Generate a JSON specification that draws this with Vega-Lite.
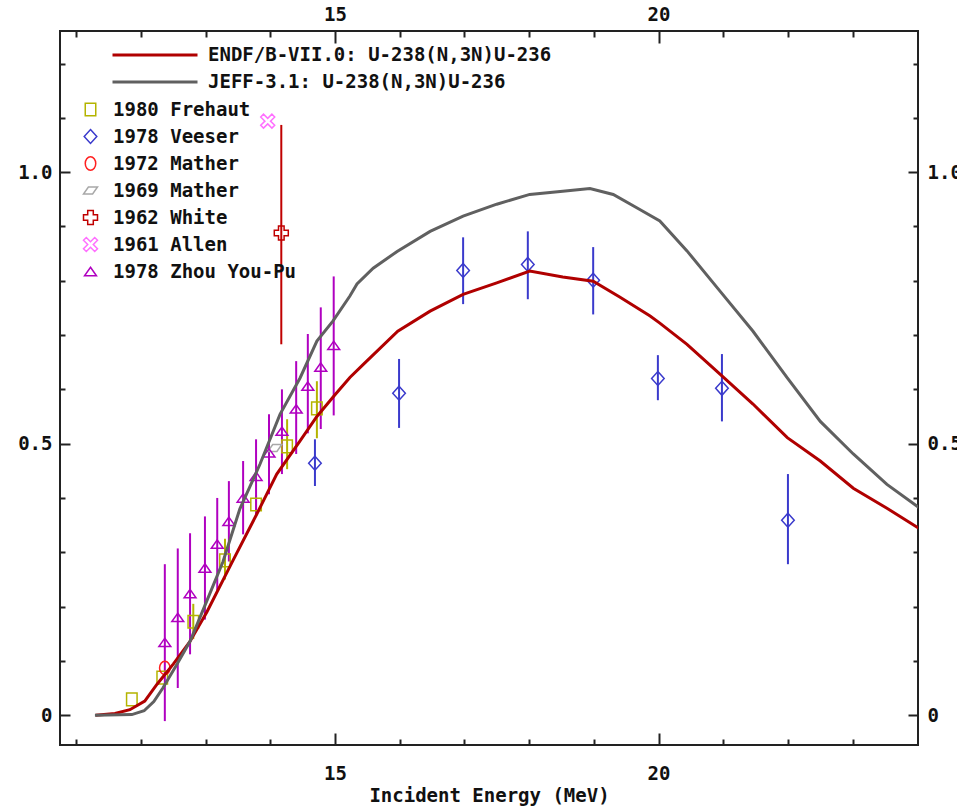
{
  "$schema": "https://vega.github.io/schema/vega-lite/v6.json",
  "width": 858,
  "height": 714,
  "autosize": {"type": "none"},
  "padding": {"left": 60, "top": 31, "right": 39, "bottom": 61},
  "background": "white",
  "config": {
    "view": {"stroke": "#222222", "strokeWidth": 2},
    "font": "DejaVu Sans Mono",
    "axis": {
      "domain": false,
      "grid": false,
      "tickColor": "#222222",
      "tickWidth": 2,
      "labelFont": "DejaVu Sans Mono",
      "labelFontSize": 19,
      "labelFontWeight": "bold",
      "labelColor": "#111111",
      "labelOverlap": false,
      "labelFlush": false,
      "titleFont": "DejaVu Sans Mono",
      "titleFontSize": 19,
      "titleFontWeight": "bold",
      "titleColor": "#111111"
    },
    "legend": {
      "padding": 0,
      "labelFont": "DejaVu Sans Mono",
      "labelFontSize": 19,
      "labelFontWeight": "bold",
      "labelColor": "#111111",
      "labelLimit": 600,
      "rowPadding": 0,
      "clipHeight": 27
    }
  },
  "datasets": {
    "curves": [
      {"series": "ENDF/B-VII.0: U-238(N,3N)U-236", "E": 11.30, "sigma": 0.000},
      {"series": "ENDF/B-VII.0: U-238(N,3N)U-236", "E": 11.60, "sigma": 0.003},
      {"series": "ENDF/B-VII.0: U-238(N,3N)U-236", "E": 11.83, "sigma": 0.010},
      {"series": "ENDF/B-VII.0: U-238(N,3N)U-236", "E": 12.06, "sigma": 0.026},
      {"series": "ENDF/B-VII.0: U-238(N,3N)U-236", "E": 12.25, "sigma": 0.057},
      {"series": "ENDF/B-VII.0: U-238(N,3N)U-236", "E": 12.50, "sigma": 0.094},
      {"series": "ENDF/B-VII.0: U-238(N,3N)U-236", "E": 12.76, "sigma": 0.136},
      {"series": "ENDF/B-VII.0: U-238(N,3N)U-236", "E": 13.02, "sigma": 0.190},
      {"series": "ENDF/B-VII.0: U-238(N,3N)U-236", "E": 13.42, "sigma": 0.284},
      {"series": "ENDF/B-VII.0: U-238(N,3N)U-236", "E": 13.79, "sigma": 0.370},
      {"series": "ENDF/B-VII.0: U-238(N,3N)U-236", "E": 14.10, "sigma": 0.444},
      {"series": "ENDF/B-VII.0: U-238(N,3N)U-236", "E": 14.46, "sigma": 0.505},
      {"series": "ENDF/B-VII.0: U-238(N,3N)U-236", "E": 14.72, "sigma": 0.550},
      {"series": "ENDF/B-VII.0: U-238(N,3N)U-236", "E": 15.00, "sigma": 0.590},
      {"series": "ENDF/B-VII.0: U-238(N,3N)U-236", "E": 15.23, "sigma": 0.622},
      {"series": "ENDF/B-VII.0: U-238(N,3N)U-236", "E": 15.43, "sigma": 0.645},
      {"series": "ENDF/B-VII.0: U-238(N,3N)U-236", "E": 15.97, "sigma": 0.707},
      {"series": "ENDF/B-VII.0: U-238(N,3N)U-236", "E": 16.47, "sigma": 0.744},
      {"series": "ENDF/B-VII.0: U-238(N,3N)U-236", "E": 16.98, "sigma": 0.775},
      {"series": "ENDF/B-VII.0: U-238(N,3N)U-236", "E": 17.50, "sigma": 0.796},
      {"series": "ENDF/B-VII.0: U-238(N,3N)U-236", "E": 18.01, "sigma": 0.818},
      {"series": "ENDF/B-VII.0: U-238(N,3N)U-236", "E": 18.52, "sigma": 0.807},
      {"series": "ENDF/B-VII.0: U-238(N,3N)U-236", "E": 18.99, "sigma": 0.799},
      {"series": "ENDF/B-VII.0: U-238(N,3N)U-236", "E": 19.40, "sigma": 0.770},
      {"series": "ENDF/B-VII.0: U-238(N,3N)U-236", "E": 19.87, "sigma": 0.735},
      {"series": "ENDF/B-VII.0: U-238(N,3N)U-236", "E": 20.02, "sigma": 0.722},
      {"series": "ENDF/B-VII.0: U-238(N,3N)U-236", "E": 20.44, "sigma": 0.683},
      {"series": "ENDF/B-VII.0: U-238(N,3N)U-236", "E": 20.95, "sigma": 0.628},
      {"series": "ENDF/B-VII.0: U-238(N,3N)U-236", "E": 21.46, "sigma": 0.573},
      {"series": "ENDF/B-VII.0: U-238(N,3N)U-236", "E": 21.99, "sigma": 0.511},
      {"series": "ENDF/B-VII.0: U-238(N,3N)U-236", "E": 22.50, "sigma": 0.468},
      {"series": "ENDF/B-VII.0: U-238(N,3N)U-236", "E": 23.01, "sigma": 0.418},
      {"series": "ENDF/B-VII.0: U-238(N,3N)U-236", "E": 23.53, "sigma": 0.381},
      {"series": "ENDF/B-VII.0: U-238(N,3N)U-236", "E": 24.04, "sigma": 0.343},
      {"series": "JEFF-3.1: U-238(N,3N)U-236", "E": 11.29, "sigma": 0.000},
      {"series": "JEFF-3.1: U-238(N,3N)U-236", "E": 11.86, "sigma": 0.001},
      {"series": "JEFF-3.1: U-238(N,3N)U-236", "E": 12.05, "sigma": 0.008},
      {"series": "JEFF-3.1: U-238(N,3N)U-236", "E": 12.20, "sigma": 0.025},
      {"series": "JEFF-3.1: U-238(N,3N)U-236", "E": 12.34, "sigma": 0.050},
      {"series": "JEFF-3.1: U-238(N,3N)U-236", "E": 12.56, "sigma": 0.094},
      {"series": "JEFF-3.1: U-238(N,3N)U-236", "E": 12.76, "sigma": 0.136},
      {"series": "JEFF-3.1: U-238(N,3N)U-236", "E": 13.00, "sigma": 0.205},
      {"series": "JEFF-3.1: U-238(N,3N)U-236", "E": 13.27, "sigma": 0.283},
      {"series": "JEFF-3.1: U-238(N,3N)U-236", "E": 13.53, "sigma": 0.380},
      {"series": "JEFF-3.1: U-238(N,3N)U-236", "E": 13.84, "sigma": 0.462},
      {"series": "JEFF-3.1: U-238(N,3N)U-236", "E": 14.15, "sigma": 0.554},
      {"series": "JEFF-3.1: U-238(N,3N)U-236", "E": 14.46, "sigma": 0.621},
      {"series": "JEFF-3.1: U-238(N,3N)U-236", "E": 14.72, "sigma": 0.689},
      {"series": "JEFF-3.1: U-238(N,3N)U-236", "E": 14.97, "sigma": 0.726},
      {"series": "JEFF-3.1: U-238(N,3N)U-236", "E": 15.23, "sigma": 0.772},
      {"series": "JEFF-3.1: U-238(N,3N)U-236", "E": 15.34, "sigma": 0.794},
      {"series": "JEFF-3.1: U-238(N,3N)U-236", "E": 15.59, "sigma": 0.823},
      {"series": "JEFF-3.1: U-238(N,3N)U-236", "E": 15.96, "sigma": 0.854},
      {"series": "JEFF-3.1: U-238(N,3N)U-236", "E": 16.47, "sigma": 0.891},
      {"series": "JEFF-3.1: U-238(N,3N)U-236", "E": 16.98, "sigma": 0.919},
      {"series": "JEFF-3.1: U-238(N,3N)U-236", "E": 17.50, "sigma": 0.941},
      {"series": "JEFF-3.1: U-238(N,3N)U-236", "E": 18.01, "sigma": 0.959},
      {"series": "JEFF-3.1: U-238(N,3N)U-236", "E": 18.52, "sigma": 0.965},
      {"series": "JEFF-3.1: U-238(N,3N)U-236", "E": 18.94, "sigma": 0.970},
      {"series": "JEFF-3.1: U-238(N,3N)U-236", "E": 19.30, "sigma": 0.959},
      {"series": "JEFF-3.1: U-238(N,3N)U-236", "E": 19.67, "sigma": 0.934},
      {"series": "JEFF-3.1: U-238(N,3N)U-236", "E": 20.02, "sigma": 0.910},
      {"series": "JEFF-3.1: U-238(N,3N)U-236", "E": 20.44, "sigma": 0.855},
      {"series": "JEFF-3.1: U-238(N,3N)U-236", "E": 20.95, "sigma": 0.781},
      {"series": "JEFF-3.1: U-238(N,3N)U-236", "E": 21.46, "sigma": 0.707},
      {"series": "JEFF-3.1: U-238(N,3N)U-236", "E": 21.99, "sigma": 0.621},
      {"series": "JEFF-3.1: U-238(N,3N)U-236", "E": 22.50, "sigma": 0.541},
      {"series": "JEFF-3.1: U-238(N,3N)U-236", "E": 23.01, "sigma": 0.481},
      {"series": "JEFF-3.1: U-238(N,3N)U-236", "E": 23.53, "sigma": 0.425},
      {"series": "JEFF-3.1: U-238(N,3N)U-236", "E": 24.04, "sigma": 0.381}
    ],
    "pts": [
      {"series": "1980 Frehaut", "E": 11.86, "sigma": 0.029, "lo": null, "hi": null},
      {"series": "1980 Frehaut", "E": 12.33, "sigma": 0.069, "lo": null, "hi": null},
      {"series": "1980 Frehaut", "E": 12.81, "sigma": 0.172, "lo": 0.140, "hi": 0.205},
      {"series": "1980 Frehaut", "E": 13.30, "sigma": 0.285, "lo": 0.250, "hi": 0.325},
      {"series": "1980 Frehaut", "E": 13.78, "sigma": 0.388, "lo": 0.370, "hi": 0.405},
      {"series": "1980 Frehaut", "E": 14.26, "sigma": 0.495, "lo": 0.453, "hi": 0.545},
      {"series": "1980 Frehaut", "E": 14.72, "sigma": 0.565, "lo": 0.510, "hi": 0.615},
      {"series": "1978 Veeser", "E": 14.69, "sigma": 0.464, "lo": 0.422, "hi": 0.508},
      {"series": "1978 Veeser", "E": 15.99, "sigma": 0.593, "lo": 0.529, "hi": 0.656},
      {"series": "1978 Veeser", "E": 16.98, "sigma": 0.819, "lo": 0.757, "hi": 0.880},
      {"series": "1978 Veeser", "E": 17.98, "sigma": 0.830, "lo": 0.766, "hi": 0.891},
      {"series": "1978 Veeser", "E": 18.99, "sigma": 0.801, "lo": 0.738, "hi": 0.862},
      {"series": "1978 Veeser", "E": 19.99, "sigma": 0.620, "lo": 0.580, "hi": 0.663},
      {"series": "1978 Veeser", "E": 20.98, "sigma": 0.602, "lo": 0.541, "hi": 0.665},
      {"series": "1978 Veeser", "E": 22.00, "sigma": 0.359, "lo": 0.278, "hi": 0.444},
      {"series": "1972 Mather", "E": 12.37, "sigma": 0.087, "lo": null, "hi": null},
      {"series": "1969 Mather", "E": 14.07, "sigma": 0.492, "lo": null, "hi": null},
      {"series": "1962 White", "E": 14.17, "sigma": 0.888, "lo": 0.683, "hi": 1.087},
      {"series": "1961 Allen", "E": 13.96, "sigma": 1.094, "lo": null, "hi": null},
      {"series": "1978 Zhou You-Pu", "E": 12.37, "sigma": 0.134, "lo": -0.011, "hi": 0.278},
      {"series": "1978 Zhou You-Pu", "E": 12.57, "sigma": 0.180, "lo": 0.050, "hi": 0.307},
      {"series": "1978 Zhou You-Pu", "E": 12.76, "sigma": 0.224, "lo": 0.112, "hi": 0.335},
      {"series": "1978 Zhou You-Pu", "E": 12.99, "sigma": 0.271, "lo": 0.176, "hi": 0.366},
      {"series": "1978 Zhou You-Pu", "E": 13.18, "sigma": 0.315, "lo": 0.230, "hi": 0.400},
      {"series": "1978 Zhou You-Pu", "E": 13.36, "sigma": 0.357, "lo": 0.283, "hi": 0.431},
      {"series": "1978 Zhou You-Pu", "E": 13.58, "sigma": 0.400, "lo": 0.333, "hi": 0.468},
      {"series": "1978 Zhou You-Pu", "E": 13.78, "sigma": 0.440, "lo": 0.370, "hi": 0.508},
      {"series": "1978 Zhou You-Pu", "E": 13.98, "sigma": 0.483, "lo": 0.407, "hi": 0.554},
      {"series": "1978 Zhou You-Pu", "E": 14.18, "sigma": 0.523, "lo": 0.444, "hi": 0.600},
      {"series": "1978 Zhou You-Pu", "E": 14.40, "sigma": 0.564, "lo": 0.481, "hi": 0.652},
      {"series": "1978 Zhou You-Pu", "E": 14.58, "sigma": 0.606, "lo": 0.519, "hi": 0.702},
      {"series": "1978 Zhou You-Pu", "E": 14.78, "sigma": 0.641, "lo": 0.527, "hi": 0.751},
      {"series": "1978 Zhou You-Pu", "E": 14.98, "sigma": 0.681, "lo": 0.552, "hi": 0.808}
    ]
  },
  "resolve": {"axis": {"x": "independent", "y": "independent"}},
  "layer": [
    {
      "data": {"name": "pts"},
      "mark": {"type": "rule", "strokeWidth": 2, "clip": true},
      "encoding": {
        "x": {
          "field": "E", "type": "quantitative",
          "scale": {"domain": [10.75, 24.01], "nice": false, "zero": false},
          "axis": {
            "orient": "bottom",
            "values": [11, 12, 13, 14, 15, 16, 17, 18, 19, 20, 21, 22, 23],
            "labelExpr": "datum.value == 15 || datum.value == 20 ? datum.label : ''",
            "tickSize": {"condition": {"test": "datum.value % 5 == 0", "value": -12}, "value": -6},
            "labelPadding": 31,
            "title": "Incident Energy (MeV)",
            "titlePadding": -3
          }
        },
        "y": {
          "field": "lo", "type": "quantitative",
          "scale": {"domain": [-0.055, 1.26], "nice": false, "zero": false},
          "axis": {
            "orient": "left",
            "values": [0, 0.1, 0.2, 0.3, 0.4, 0.5, 0.6, 0.7, 0.8, 0.9, 1.0, 1.1, 1.2],
            "labelExpr": "abs(datum.value) < 0.001 ? '0' : (abs(datum.value - 0.5) < 0.001 ? '0.5' : (abs(datum.value - 1) < 0.001 ? '1.0' : ''))",
            "tickSize": {"condition": {"test": "abs(datum.value * 2 - round(datum.value * 2)) < 0.001", "value": -10}, "value": -5},
            "labelPadding": 18,
            "title": null
          }
        },
        "y2": {"field": "hi"},
        "color": {
          "field": "series", "type": "nominal",
          "scale": {
            "domain": ["1980 Frehaut", "1978 Veeser", "1972 Mather", "1969 Mather", "1962 White", "1961 Allen", "1978 Zhou You-Pu"],
            "range": ["#b4b400", "#3a3acc", "#ff2020", "#a8a8a8", "#c00000", "#ff70ff", "#b000c0"]
          },
          "legend": {"title": null, "orient": "none", "legendX": 21, "legendY": 65, "symbolSize": 196, "symbolStrokeWidth": 1.5, "labelOffset": 13}
        }
      }
    },
    {
      "data": {"name": "pts"},
      "mark": {"type": "point", "filled": false, "size": 196, "strokeWidth": 1.5, "opacity": 1, "clip": true},
      "encoding": {
        "x": {"field": "E", "type": "quantitative", "scale": {"domain": [10.75, 24.01], "nice": false, "zero": false}, "axis": null},
        "y": {"field": "sigma", "type": "quantitative", "scale": {"domain": [-0.055, 1.26], "nice": false, "zero": false}, "axis": null},
        "color": {
          "field": "series", "type": "nominal",
          "scale": {
            "domain": ["1980 Frehaut", "1978 Veeser", "1972 Mather", "1969 Mather", "1962 White", "1961 Allen", "1978 Zhou You-Pu"],
            "range": ["#b4b400", "#3a3acc", "#ff2020", "#a8a8a8", "#c00000", "#ff70ff", "#b000c0"]
          },
          "legend": {"title": null, "orient": "none", "legendX": 21, "legendY": 65, "symbolSize": 196, "symbolStrokeWidth": 1.5, "labelOffset": 13}
        },
        "shape": {
          "field": "series", "type": "nominal",
          "scale": {
            "domain": ["1980 Frehaut", "1978 Veeser", "1972 Mather", "1969 Mather", "1962 White", "1961 Allen", "1978 Zhou You-Pu"],
            "range": [
              "M-0.75,-0.9H0.75V0.9H-0.75Z",
              "M0,-1L0.9,0L0,1L-0.9,0Z",
              "M-0.75,0A0.75,0.95,0,1,1,0.75,0A0.75,0.95,0,1,1,-0.75,0Z",
              "M-0.3,-0.5L1,-0.5L0.3,0.5L-1,0.5Z",
              "cross",
              "M-1,-0.6L-0.6,-1L0,-0.4L0.6,-1L1,-0.6L0.4,0L1,0.6L0.6,1L0,0.4L-0.6,1L-1,0.6L-0.4,0Z",
              "M0,-0.6L0.85,0.6L-0.85,0.6Z"
            ]
          },
          "legend": {"title": null, "orient": "none", "legendX": 21, "legendY": 65, "symbolSize": 196, "symbolStrokeWidth": 1.5, "labelOffset": 13}
        }
      }
    },
    {
      "data": {"name": "curves"},
      "mark": {"type": "line", "strokeWidth": 3, "clip": true},
      "encoding": {
        "x": {
          "field": "E", "type": "quantitative",
          "scale": {"domain": [10.75, 24.01], "nice": false, "zero": false},
          "axis": {
            "orient": "top",
            "values": [11, 12, 13, 14, 15, 16, 17, 18, 19, 20, 21, 22, 23],
            "labelExpr": "datum.value == 15 || datum.value == 20 ? datum.label : ''",
            "tickSize": {"condition": {"test": "datum.value % 5 == 0", "value": -12}, "value": -6},
            "labelPadding": 19,
            "title": null
          }
        },
        "y": {
          "field": "sigma", "type": "quantitative",
          "scale": {"domain": [-0.055, 1.26], "nice": false, "zero": false},
          "axis": {
            "orient": "right",
            "values": [0, 0.1, 0.2, 0.3, 0.4, 0.5, 0.6, 0.7, 0.8, 0.9, 1.0, 1.1, 1.2],
            "labelExpr": "abs(datum.value) < 0.001 ? '0' : (abs(datum.value - 0.5) < 0.001 ? '0.5' : (abs(datum.value - 1) < 0.001 ? '1.0' : ''))",
            "tickSize": {"condition": {"test": "abs(datum.value * 2 - round(datum.value * 2)) < 0.001", "value": -10}, "value": -5},
            "labelPadding": 19,
            "title": null
          }
        },
        "stroke": {
          "field": "series", "type": "nominal",
          "scale": {
            "domain": ["ENDF/B-VII.0: U-238(N,3N)U-236", "JEFF-3.1: U-238(N,3N)U-236"],
            "range": ["#b00000", "#606060"]
          },
          "legend": {"title": null, "orient": "none", "legendX": 51, "legendY": 10.5, "symbolType": "stroke", "symbolSize": 7225, "symbolStrokeWidth": 3, "labelOffset": 9}
        }
      }
    }
  ]
}
